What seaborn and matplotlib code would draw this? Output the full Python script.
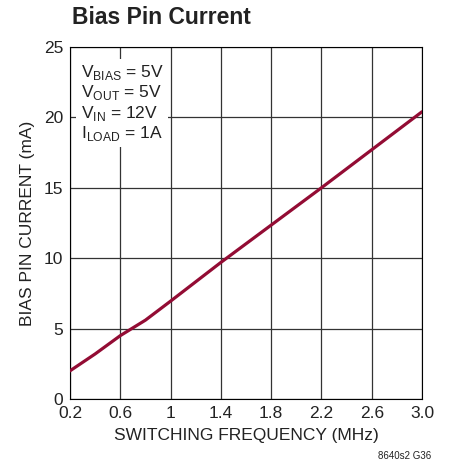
import matplotlib
matplotlib.use("Agg")
import matplotlib.pyplot as plt
import seaborn as sns
import pandas as pd

freq_mhz = [0.2, 0.4, 0.6, 0.8, 1.0, 1.4, 1.8, 2.2, 2.6, 3.0]
bias_ma = [2.0, 3.2, 4.5, 5.6, 6.95, 9.7, 12.35, 15.0, 17.7, 20.4]
x_labels = ["0.2", "0.6", "1", "1.4", "1.8", "2.2", "2.6", "3.0"]
y_ticks = [0, 5, 10, 15, 20, 25]

sns.set_style("white", {"axes.linewidth": 1.6, "axes.edgecolor": "0"})
plt.rcParams['font.family'] = ['Liberation Sans Narrow', 'Liberation Sans', 'DejaVu Sans']
plt.rcParams['mathtext.fontset'] = 'custom'
plt.rcParams['mathtext.rm'] = 'Liberation Sans'

df = pd.DataFrame({"f": freq_mhz, "i": bias_ma})

fig = plt.figure(figsize=(4.52, 4.67), dpi=100)
ax = fig.add_axes([70 / 452, 68 / 467, 352 / 452, 352 / 467])

sns.lineplot(data=df, x="f", y="i", ax=ax, color="#930c34", lw=2.3, zorder=3)

ax.set_xlim(0.2, 3.0)
ax.set_ylim(0, 25)
ax.set_xticks([0.2 + 0.4 * k for k in range(8)])
ax.set_xticklabels(x_labels)
ax.set_yticks(y_ticks)
ax.grid(True, color="0.2", lw=0.9)
ax.tick_params(axis="both", labelsize=12.5, length=0, pad=5, colors="#222222")

ax.set_xlabel("SWITCHING FREQUENCY (MHz)", fontsize=12.5, color="#222222", labelpad=5)
ax.set_ylabel("BIAS PIN CURRENT (mA)", fontsize=12.5, color="#222222", labelpad=6)

ax.text(0.03, 0.955,
        "V$_{\\mathregular{BIAS}}$ = 5V\nV$_{\\mathregular{OUT}}$ = 5V\n"
        "V$_{\\mathregular{IN}}$ = 12V\nI$_{\\mathregular{LOAD}}$ = 1A",
        transform=ax.transAxes, fontsize=12.5, va="top", ha="left",
        color="#222222", linespacing=1.1, zorder=4,
        bbox=dict(facecolor="white", edgecolor="none", pad=3))

fig.text(72 / 452, 1 - 18 / 467, "Bias Pin Current", fontsize=16.5,
         fontweight="bold", va="center", ha="left", color="#222222")
fig.text(0.955, 0.012, "8640s2 G36", fontsize=7, ha="right", va="bottom",
         color="#222222")

plt.savefig("out.png", dpi=100)
